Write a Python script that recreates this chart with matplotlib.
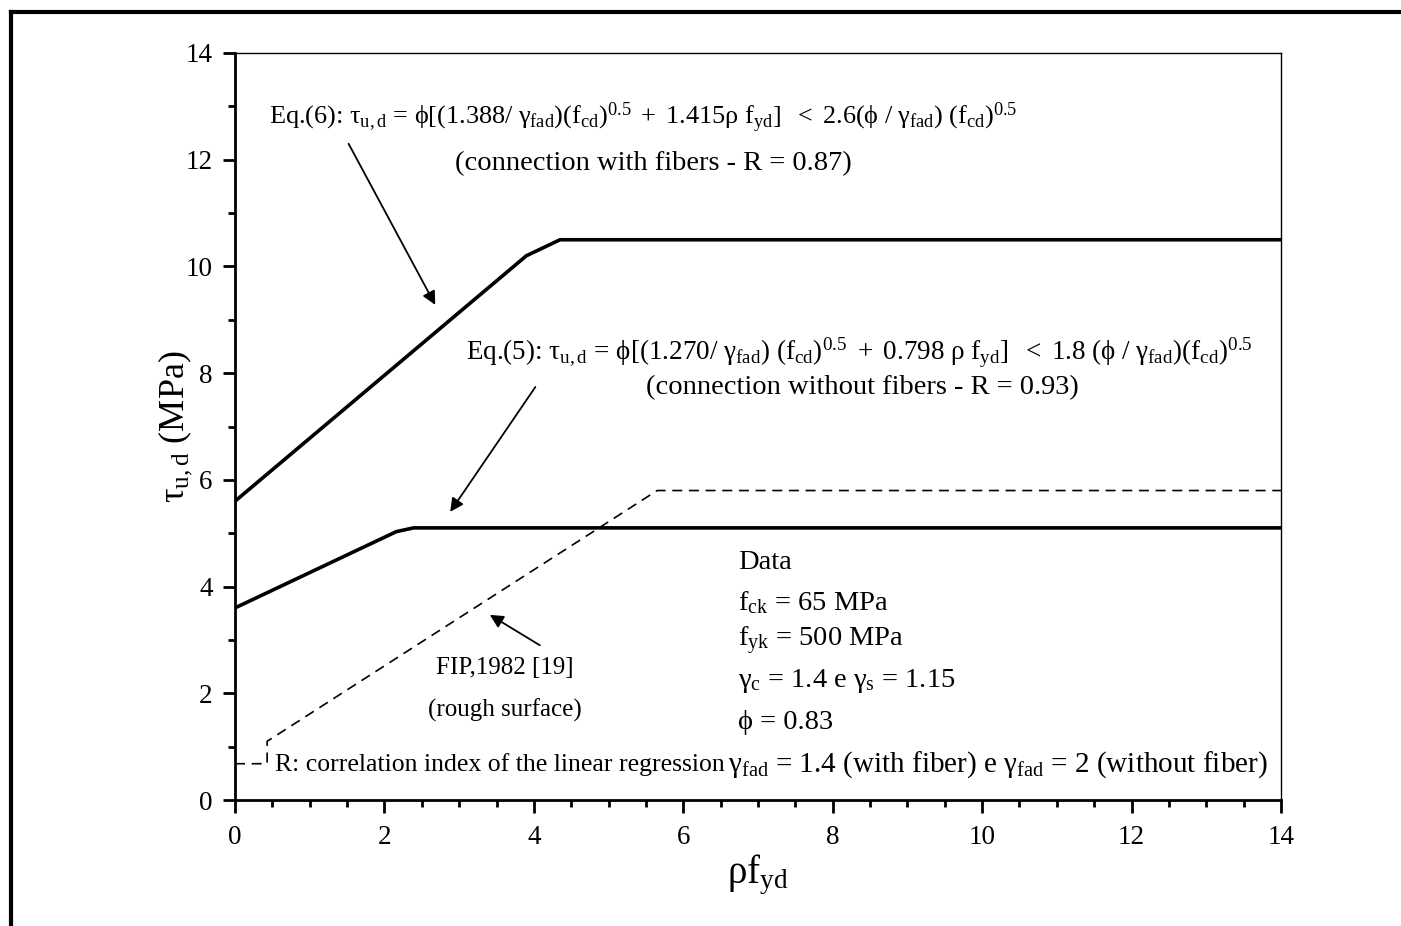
import matplotlib
matplotlib.use("Agg")
import matplotlib.pyplot as plt
from matplotlib.lines import Line2D
from matplotlib.ticker import MultipleLocator

plt.rcParams['font.family'] = ['Liberation Serif', 'DejaVu Serif']
plt.rcParams['mathtext.fontset'] = 'custom'
plt.rcParams['mathtext.rm'] = 'Liberation Serif'
plt.rcParams['mathtext.it'] = 'Liberation Serif:italic'
plt.rcParams['mathtext.bf'] = 'Liberation Serif:bold'

# Data
eq6_x = [0.0, 3.9, 4.35, 14.0]
eq6_y = [5.6, 10.2, 10.5, 10.5]
eq5_x = [0.0, 2.16, 2.39, 14.0]
eq5_y = [3.6, 5.03, 5.1, 5.1]
fip_x = [0.0, 0.43, 0.43, 5.65, 14.0]
fip_y = [0.68, 0.68, 1.1, 5.8, 5.8]

x_ticks = [0, 2, 4, 6, 8, 10, 12, 14]
y_ticks = [0, 2, 4, 6, 8, 10, 12, 14]

fig = plt.figure(figsize=(14.01, 9.26), dpi=100)
W, H = 1401, 926
ax = fig.add_axes([235 / W, 1 - 800 / H, (1281 - 235) / W, (800 - 53) / H])

ax.plot(eq6_x, eq6_y, color='black', lw=2.6, solid_joinstyle='round')
ax.plot(eq5_x, eq5_y, color='black', lw=2.6, solid_joinstyle='round')
ax.plot(fip_x, fip_y, color='black', lw=1.2, dashes=(6, 4))

ax.set_xlim(0, 14)
ax.set_ylim(0, 14)
ax.set_xticks(x_ticks)
ax.set_yticks(y_ticks)
ax.xaxis.set_minor_locator(MultipleLocator(0.5))
ax.yaxis.set_minor_locator(MultipleLocator(1))
ax.tick_params(which='major', direction='out', length=9, width=2, labelsize=19.5)
ax.tick_params(axis='x', which='major', pad=9)
ax.tick_params(axis='y', which='major', pad=7)
ax.tick_params(which='minor', direction='out', length=5, width=2)
ax.tick_params(top=False, right=False, which='both')
ax.spines['left'].set_linewidth(2)
ax.spines['bottom'].set_linewidth(2)
ax.spines['top'].set_linewidth(1)
ax.spines['right'].set_linewidth(1)

ax.set_xlabel(r'$\mathrm{ρf}_{\mathrm{yd}}$', fontsize=28, labelpad=2)
ax.set_ylabel(r'$\mathrm{τ}_{\mathrm{u,d}}$ (MPa)', fontsize=26, labelpad=-6)

fs = 20.5
eq6 = (r'Eq.(6): $\mathrm{τ}_{\mathrm{u,d}}$ = $\mathrm{ϕ[(1.388/\ γ_{fad})(f_{cd})^{0.5}\ +\ 1.415ρ\ f_{yd}]\ \ <\ 2.6(ϕ\ /\ γ_{fad})\ (f_{cd})^{0.5}}$')
ax.text(0.45, 12.78, eq6, fontsize=18.9, ha='left', va='center')
ax.text(5.6, 11.93, '(connection with fibers - R = 0.87)', fontsize=fs, ha='center', va='center')

eq5 = (r'Eq.(5): $\mathrm{τ}_{\mathrm{u,d}}$ = $\mathrm{ϕ[(1.270/\ γ_{fad})\ (f_{cd})^{0.5}\ +\ 0.798\ ρ\ f_{yd}]\ \ <\ 1.8\ (ϕ\ /\ γ_{fad})(f_{cd})^{0.5}}$')
ax.text(3.09, 8.38, eq5, fontsize=19.5, ha='left', va='center')
ax.text(8.4, 7.72, '(connection without fibers - R = 0.93)', fontsize=fs, ha='center', va='center')

ax.text(3.61, 2.47, 'FIP,1982 [19]', fontsize=18, ha='center', va='center')
ax.text(3.61, 1.68, '(rough surface)', fontsize=18, ha='center', va='center')

data_lines = ['Data',
              r'$\mathrm{f_{ck}}$ = 65 MPa',
              r'$\mathrm{f_{yk}}$ = 500 MPa',
              r'$\mathrm{γ_{c}}$ = 1.4 e $\mathrm{γ_{s}}$ = 1.15',
              r'ϕ = 0.83']
data_y = [4.46, 3.7, 2.98, 2.23, 1.46]
for t, yy in zip(data_lines, data_y):
    ax.text(6.73, yy, t, fontsize=fs, ha='left', va='center')
ax.text(0.53, 0.66, 'R: correlation index of the linear regression', fontsize=18.5, ha='left', va='center')
ax.text(6.6, 0.66, r'$\mathrm{γ_{fad}}$ = 1.4 (with fiber) e $\mathrm{γ_{fad}}$ = 2 (without fiber)',
        fontsize=21, ha='left', va='center')

arrow = dict(arrowstyle='-|>', color='black', lw=1.3, mutation_scale=20, shrinkA=0, shrinkB=0)
ax.annotate('', xy=(2.68, 9.28), xytext=(1.52, 12.3), arrowprops=arrow)
ax.annotate('', xy=(2.88, 5.4), xytext=(4.02, 7.74), arrowprops=arrow)
ax.annotate('', xy=(3.41, 3.47), xytext=(4.08, 2.9), arrowprops=arrow)

# figure border (top and left edges visible)
fig.add_artist(Line2D([11 / W, 1.0], [1 - 12 / H, 1 - 12 / H], color='black', lw=3, transform=fig.transFigure))
fig.add_artist(Line2D([11 / W, 11 / W], [1 - 12 / H, 0.0], color='black', lw=3, transform=fig.transFigure))

fig.savefig('out.png', dpi=100)
